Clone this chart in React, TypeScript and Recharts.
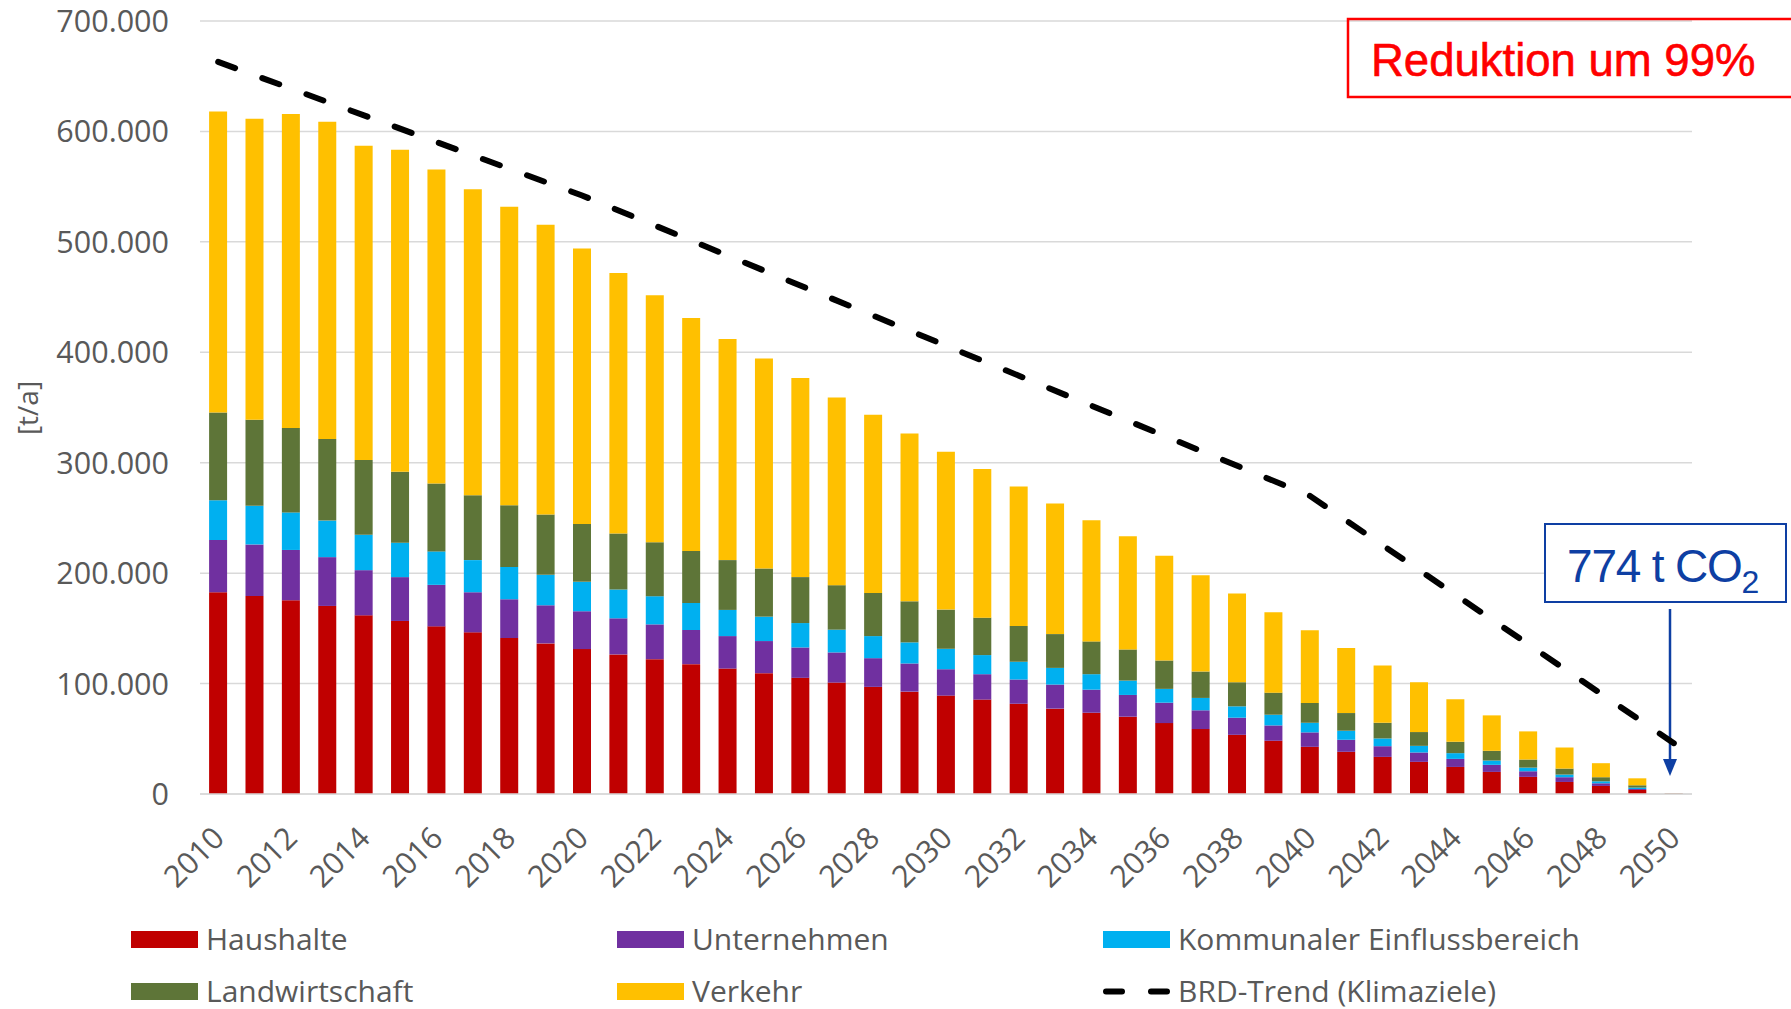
import React from 'react';
import {
  ComposedChart,
  Bar,
  Line,
  XAxis,
  YAxis,
  CartesianGrid,
  Legend,
  Customized,
} from 'recharts';

const years: string[] = [
  '2010', '2011', '2012', '2013', '2014', '2015', '2016', '2017', '2018', '2019',
  '2020', '2021', '2022', '2023', '2024', '2025', '2026', '2027', '2028', '2029',
  '2030', '2031', '2032', '2033', '2034', '2035', '2036', '2037', '2038', '2039',
  '2040', '2041', '2042', '2043', '2044', '2045', '2046', '2047', '2048', '2049',
  '2050',
];

const haushalte: number[] = [
  182700, 179400, 175500, 170300, 161800, 156700, 151800, 146400, 141200, 136400,
  131200, 126400, 122100, 117600, 113600, 109400, 105200, 100900, 97000, 92700,
  89100, 85500, 81800, 77300, 73600, 70000, 64200, 58800, 53600, 48200,
  42700, 38200, 33600, 29100, 24500, 20000, 15500, 10900, 7300, 3600,
  350,
];

const unternehmen: number[] = [
  47300, 46600, 45500, 44200, 40900, 39700, 37600, 36300, 35200, 34500,
  34300, 32700, 31500, 30900, 29400, 29100, 27500, 27300, 26000, 25500,
  23900, 23000, 21800, 21800, 20900, 19700, 18500, 17000, 15500, 13900,
  13100, 10900, 9700, 8500, 7300, 6400, 5100, 4300, 2400, 900,
  100,
];

const kommunal: number[] = [
  36000, 35000, 34000, 33100, 32100, 31200, 30300, 29100, 29100, 27600,
  26600, 26100, 25500, 24500, 23700, 22100, 22100, 20600, 20000, 19100,
  18500, 17300, 16100, 15100, 14000, 13000, 12500, 11200, 10300, 9700,
  8700, 8200, 7000, 6000, 5200, 3900, 3300, 2400, 1800, 1300,
  80,
];

const landwirtschaft: number[] = [
  79500, 78000, 76500, 73900, 67600, 64200, 61500, 58800, 56000, 54500,
  52400, 50800, 48800, 47000, 45100, 43600, 41600, 40300, 39100, 37200,
  35500, 33900, 32400, 30600, 29700, 28200, 25700, 23900, 21800, 20000,
  17900, 16000, 14200, 12500, 10300, 8800, 7300, 5400, 3700, 2100,
  100,
];

const verkehr: number[] = [
  272500, 272500, 284200, 287300, 284600, 291600, 284400, 277100, 270200, 262400,
  249500, 235900, 223800, 211100, 200200, 190200, 180400, 169900, 161300, 151900,
  143000, 134500, 126400, 118200, 109700, 102400, 94900, 87300, 80300, 72700,
  65800, 58800, 51900, 45100, 38500, 32100, 25500, 19100, 12700, 6300,
  144,
];

// BRD-Trend (Klimaziele): target values at the decade years only
const trendYears: string[] = ['2010', '2020', '2030', '2040', '2050'];
const trendValues: number[] = [663000, 542000, 406000, 270000, 46000];

const yTicks: number[] = [0, 100000, 200000, 300000, 400000, 500000, 600000, 700000];

const seriesNames = {
  haushalte: 'Haushalte',
  unternehmen: 'Unternehmen',
  kommunal: 'Kommunaler Einflussbereich',
  landwirtschaft: 'Landwirtschaft',
  verkehr: 'Verkehr',
  trend: 'BRD-Trend (Klimaziele)',
};

const colors = {
  haushalte: '#C00000',
  unternehmen: '#7030A0',
  kommunal: '#00B0F0',
  landwirtschaft: '#5E7538',
  verkehr: '#FFC000',
  trend: '#000000',
};

const data = years.map((y, i) => {
  const ti = trendYears.indexOf(y);
  return {
    year: y,
    haushalte: haushalte[i],
    unternehmen: unternehmen[i],
    kommunal: kommunal[i],
    landwirtschaft: landwirtschaft[i],
    verkehr: verkehr[i],
    trend: ti >= 0 ? trendValues[ti] : null,
  };
});

const AXIS_FONT = '"Open Sans", "Noto Sans", sans-serif';
const GRAY = '#595959';

const formatY = (v: number) => {
  if (v === 0) return '0';
  const s = String(Math.round(v));
  return s.replace(/\B(?=(\d{3})+(?!\d))/g, '.');
};

const XTick = (props: any) => {
  const { x, y, payload } = props;
  const tx = x + 8;
  const ty = y + 46;
  return (
    <text
      x={tx}
      y={ty}
      transform={`rotate(-45, ${tx}, ${ty})`}
      textAnchor="end"
      fill={GRAY}
      fontFamily={AXIS_FONT}
      fontSize={30.5}
    >
      {payload.value}
    </text>
  );
};

const YTick = (props: any) => {
  const { x, y, payload } = props;
  return (
    <text
      x={x}
      y={y}
      dy={11}
      textAnchor="end"
      fill={GRAY}
      fontFamily={AXIS_FONT}
      fontSize={30.5}
    >
      {formatY(payload.value)}
    </text>
  );
};

const legendOrder = ['haushalte', 'unternehmen', 'kommunal', 'landwirtschaft', 'verkehr', 'trend'];
const legendCols = [131, 617, 1103];

const renderLegend = (props: any) => {
  const payload: any[] = props.payload || [];
  const sorted = legendOrder
    .map((k) => payload.find((p) => p.dataKey === k))
    .filter(Boolean);
  return (
    <div style={{ position: 'relative', width: 1791, height: 100 }}>
      {sorted.map((p: any, i: number) => {
        const col = i % 3;
        const row = Math.floor(i / 3);
        const isLine = p.dataKey === 'trend';
        return (
          <div
            key={p.dataKey}
            style={{
              position: 'absolute',
              left: legendCols[col],
              top: row * 52,
              height: 48,
              display: 'flex',
              alignItems: 'center',
              whiteSpace: 'nowrap',
            }}
          >
            <svg width={67} height={17} style={{ display: 'block' }}>
              {isLine ? (
                <line
                  x1={3}
                  y1={8.5}
                  x2={64}
                  y2={8.5}
                  stroke="#000"
                  strokeWidth={6}
                  strokeLinecap="round"
                  strokeDasharray="16 29"
                />
              ) : (
                <rect x={0} y={0} width={67} height={17} fill={p.color} />
              )}
            </svg>
            <span
              style={{
                marginLeft: 8,
                fontFamily: AXIS_FONT,
                fontSize: 30,
                color: GRAY,
                lineHeight: '48px',
              }}
            >
              {p.value}
            </span>
          </div>
        );
      })}
    </div>
  );
};

const Annotations = () => {
  const blue = '#0E3FA3';
  return (
    <g>
      <text
        x={27}
        y={408}
        transform="rotate(-90, 27, 408)"
        textAnchor="middle"
        dominantBaseline="central"
        fill={GRAY}
        fontFamily={AXIS_FONT}
        fontSize={28}
      >
        [t/a]
      </text>
      <rect x={1348} y={19} width={460} height={78} fill="none" stroke="#FF0000" strokeWidth={2.5} />
      <text
        x={1371}
        y={76}
        fill="#FF0000"
        stroke="#FF0000"
        strokeWidth={0.6}
        fontFamily='"Liberation Sans", Arial, sans-serif'
        fontSize={45.5}
      >
        Reduktion um 99%
      </text>
      <rect x={1545} y={524} width={241} height={78} fill="#fff" stroke={blue} strokeWidth={2} />
      <text
        x={1567}
        y={582}
        fill={blue}
        fontFamily='"Liberation Sans", Arial, sans-serif'
        fontSize={46}
        letterSpacing={-1.2}
      >
        774 t CO
        <tspan fontSize={32} dy={11}>2</tspan>
      </text>
      <line x1={1670} y1={609} x2={1670} y2={762} stroke={blue} strokeWidth={2.5} />
      <polygon points="1663,759 1677,759 1670,776" fill={blue} />
    </g>
  );
};

export default function App() {
  return (
    <div style={{ position: 'absolute', left: 0, top: 0, width: 1791, height: 1009, background: '#fff' }}>
      <ComposedChart
        width={1791}
        height={1009}
        data={data}
        margin={{ top: 21, right: 99, bottom: 115, left: 0 }}
        barCategoryGap="25%"
      >
        <CartesianGrid vertical={false} stroke="#D9D9D9" strokeWidth={1.5} />
        <XAxis
          dataKey="year"
          interval={1}
          height={100}
          tickSize={0}
          tickMargin={0}
          axisLine={{ stroke: '#D9D9D9', strokeWidth: 1.5 }}
          tickLine={false}
          tick={<XTick />}
        />
        <YAxis
          width={200}
          domain={[0, 700000]}
          ticks={yTicks}
          interval={0}
          tickSize={0}
          tickMargin={31}
          axisLine={false}
          tickLine={false}
          tick={<YTick />}
        />
        <Bar dataKey="haushalte" name={seriesNames.haushalte} stackId="a" fill={colors.haushalte} isAnimationActive={false} />
        <Bar dataKey="unternehmen" name={seriesNames.unternehmen} stackId="a" fill={colors.unternehmen} isAnimationActive={false} />
        <Bar dataKey="kommunal" name={seriesNames.kommunal} stackId="a" fill={colors.kommunal} isAnimationActive={false} />
        <Bar dataKey="landwirtschaft" name={seriesNames.landwirtschaft} stackId="a" fill={colors.landwirtschaft} isAnimationActive={false} />
        <Bar dataKey="verkehr" name={seriesNames.verkehr} stackId="a" fill={colors.verkehr} isAnimationActive={false} />
        <Line
          dataKey="trend"
          name={seriesNames.trend}
          stroke={colors.trend}
          strokeWidth={6}
          strokeDasharray="18 29"
          strokeLinecap="round"
          dot={false}
          activeDot={false}
          connectNulls
          type="linear"
          isAnimationActive={false}
        />
        <Legend
          layout="horizontal"
          verticalAlign="middle"
          align="center"
          content={renderLegend}
          wrapperStyle={{ left: 0, top: 915, width: 1791, height: 100 }}
        />
        <Customized component={Annotations} />
      </ComposedChart>
    </div>
  );
}
